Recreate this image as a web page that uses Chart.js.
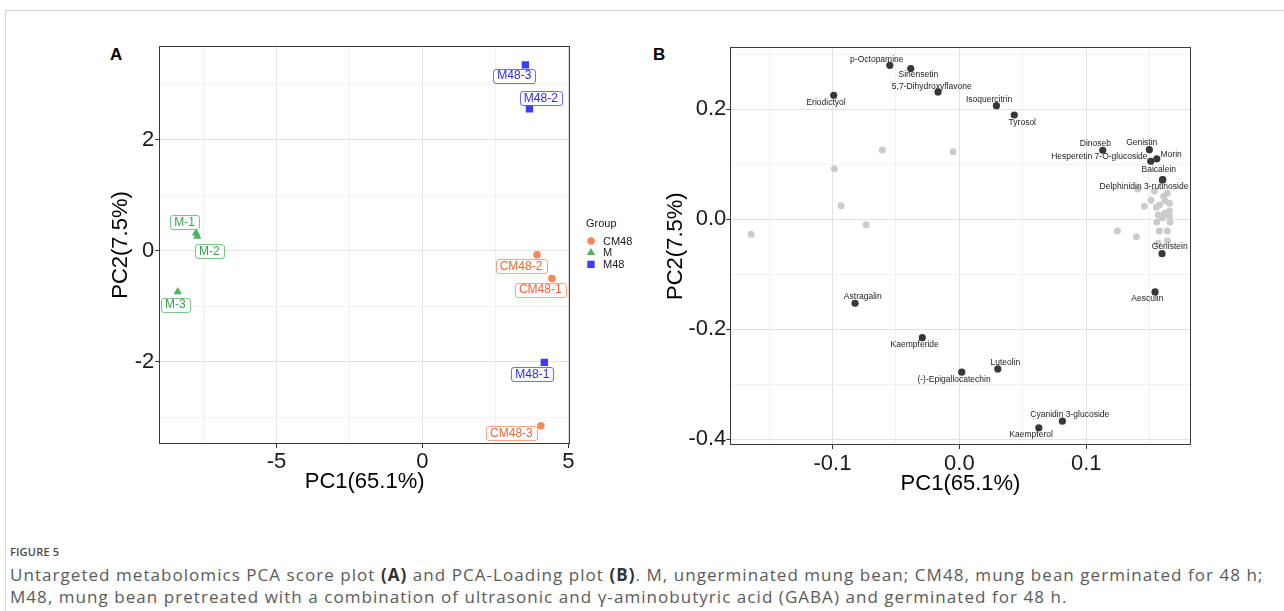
<!DOCTYPE html>
<html>
<head>
<meta charset="utf-8">
<script src="https://cdn.jsdelivr.net/npm/chart.js@4.4.0/dist/chart.umd.min.js"></script>
<style>
	body { margin: 0; width: 1284px; height: 611px; background: #fff; position: relative; overflow: hidden; font-family: 'Liberation Sans', Arial, sans-serif; }
	#frame { position: absolute; left: 5px; top: 10px; right: 0; bottom: 0; border-top: 1px solid #d4d4d4; border-left: 1px solid #d4d4d4; }
	canvas { position: absolute; }
	.tag { position: absolute; font-weight: bold; font-size: 17px; color: #000; line-height: 1; }
	#figno { position: absolute; left: 10px; top: 544px; font-family: 'Open Sans', sans-serif; font-size: 11px; font-weight: 600; color: #4a4a4a; letter-spacing: 0.2px; }
	#caption { position: absolute; left: 10px; top: 564px; font-family: 'Open Sans', sans-serif; font-size: 17px; letter-spacing: 1.05px; line-height: 22px; color: #5a5a5a; white-space: nowrap; }
	#caption b { color: #333; }
</style>
</head>
<body>
<div id="frame"></div>
<div class="tag" style="left:110px;top:46px">A</div>
<div class="tag" style="left:653px;top:46px">B</div>
<canvas id="scoreChart" width="550" height="470" style="left:100px;top:40px"></canvas>
<canvas id="loadingChart" width="624" height="470" style="left:660px;top:40px"></canvas>
<div id="figno">FIGURE 5</div>
<div id="caption">Untargeted metabolomics PCA score plot <b>(A)</b> and PCA-Loading plot <b>(B)</b>. M, ungerminated mung bean; CM48, mung bean germinated for 48 h;<br>M48, mung bean pretreated with a combination of ultrasonic and γ-aminobutyric acid (GABA) and germinated for 48 h.</div>

<script>
// --- PCA score plot (A) ---
const groups = ['CM48', 'M', 'M48'];
const sampleNames = ['CM48-1', 'CM48-2', 'CM48-3', 'M-1', 'M-2', 'M-3', 'M48-1', 'M48-2', 'M48-3'];
const sampleGroup = ['CM48', 'CM48', 'CM48', 'M', 'M', 'M', 'M48', 'M48', 'M48'];
const pc1Scores = [4.44, 3.93, 4.06, -7.76, -7.72, -8.39, 4.18, 3.67, 3.53];
const pc2Scores = [-0.50, -0.07, -3.15, 0.32, 0.26, -0.74, -2.01, 2.56, 3.35];

const scoreRangeX = [-9.02, 5.06];
const scoreRangeY = [-3.48, 3.69];
const scoreMajorX = [-5, 0, 5];
const scoreMinorX = [-7.5, -2.5, 2.5];
const scoreMajorY = [-2, 0, 2];
const scoreMinorY = [-3, -1, 1, 3];

// --- PCA loading plot (B) ---
const namedCompounds = ['p-Octopamine', 'Sinensetin', '5,7-Dihydroxyflavone', 'Eriodictyol', 'Isoquercitrin',
	'Tyrosol', 'Dinoseb', 'Genistin', 'Morin', 'Hesperetin 7-O-glucoside', 'Baicalein', 'Delphinidin 3-rutinoside',
	'Genistein', 'Aesculin', 'Astragalin', 'Kaempferide', 'Luteolin', '(-)-Epigallocatechin', 'Cyanidin 3-glucoside', 'Kaempferol'];
const namedPC1 = [-0.0548, -0.0383, -0.0168, -0.0990, 0.0292, 0.0433, 0.1130, 0.1497, 0.1556, 0.1508, 0.1603, 0.1600,
	0.1597, 0.1542, -0.0822, -0.0292, 0.0303, 0.0019, 0.0812, 0.0626];
const namedPC2 = [0.280, 0.274, 0.2315, 0.2255, 0.2065, 0.1896, 0.1255, 0.1265, 0.110, 0.1055, 0.072, 0.0715,
	-0.0625, -0.132, -0.1527, -0.2153, -0.272, -0.278, -0.367, -0.379];
const otherPC1 = [-0.1641, -0.0985, -0.0607, -0.0050, -0.0932, -0.0735, 0.1245, 0.1395, 0.1458, 0.1510, 0.1553, 0.1576,
	0.1537, 0.1610, 0.1621, 0.1639, 0.1655, 0.1568, 0.1600, 0.1618, 0.1655, 0.1655, 0.1660, 0.1556, 0.1576, 0.1639,
	0.1566, 0.1639, 0.1406];
const otherPC2 = [-0.0273, 0.092, 0.126, 0.123, 0.0247, -0.0098, -0.0213, -0.0316, 0.0236, 0.0345, 0.0218, 0.026,
	0.0515, 0.0418, 0.0333, 0.0473, 0.029, 0.0078, 0.003, 0.011, 0.015, 0.006, -0.005, -0.005, -0.0213, -0.0213,
	-0.0437, -0.0395, 0.055];

const loadRangeX = [-0.1805, 0.1823];
const loadRangeY = [-0.4104, 0.3127];
const loadMajorX = [-0.1, 0, 0.1];
const loadMinorX = [-0.15, -0.05, 0.05, 0.15];
const loadMajorY = [-0.4, -0.2, 0, 0.2];
const loadMinorY = [-0.3, -0.1, 0.1, 0.3];

// label nudges in pixels (label centre relative to its point)
const scoreLabelNudge = [[-11.7, 11], [-16, 11], [-29.4, 7.7], [-11.4, -10.7], [12, 14.3], [-2.4, 12.7], [-12, 11.7], [11.4, -10.3], [-11, 10.7]];
const loadLabelNudge = [[-13, -5.3], [7.6, 6.3], [-6.3, -5.3], [-7.7, 7], [-7.3, -5.7], [8, 7.7], [-7.4, -6.6], [-7.6, -6.7],
	[14.3, -3.7], [-51.4, -4.3], [-4, -10], [-18.4, 6.6], [7.7, -7], [-7.7, 7], [7.7, -6.3], [-7.6, 7.3], [7.6, -6.7],
	[-7.7, 7], [7.4, -6.3], [-7.7, 6.6]];

const groupStyle = {
	CM48: { fill: '#F8875C', text: '#F26534', shape: 'circle', r: 3.8 },
	M: { fill: '#4DB35B', text: '#36A548', shape: 'triangle', r: 4.8 },
	M48: { fill: '#3D3DF3', text: '#2B2BEA', shape: 'rect', r: 5.2 }
};

const FONT = "'Liberation Sans', Arial, sans-serif";

function axis(pos, range, majors, minors, title, fmt, size, tickPad, titlePad) {
	const all = majors.concat(minors).sort((a, b) => a - b);
	const isMajor = v => majors.some(m => Math.abs(m - v) < 1e-9);
	return {
		type: 'linear',
		position: pos,
		min: range[0],
		max: range[1],
		afterBuildTicks: s => { s.ticks = all.map(v => ({ value: v })); },
		afterFit: s => {
			if (pos === 'left') s.width = size; else s.height = size;
			s.paddingTop = 0; s.paddingBottom = 0; s.paddingLeft = 0; s.paddingRight = 0;
		},
		border: { display: false },
		grid: {
			color: c => isMajor(c.tick.value) ? '#e3e3e3' : '#f1f1f1',
			tickColor: c => isMajor(c.tick.value) ? '#333' : 'rgba(0,0,0,0)',
			tickLength: 4,
			lineWidth: 1
		},
		ticks: {
			autoSkip: false,
			maxRotation: 0,
			padding: tickPad,
			color: '#1a1a1a',
			font: { family: FONT, size: 22 },
			callback: v => isMajor(v) ? fmt(v) : ''
		},
		title: {
			display: true,
			text: title,
			color: '#000',
			font: { family: FONT, size: 22 },
			padding: titlePad
		}
	};
}

function panelBorder(ctx, area) {
	ctx.save();
	ctx.strokeStyle = '#3a3a3a';
	ctx.lineWidth = 1;
	const l = Math.round(area.left) + 0.5, t = Math.round(area.top) + 0.5;
	const r = Math.round(area.right) - 0.5, b = Math.round(area.bottom) - 0.5;
	ctx.strokeRect(l, t, r - l, b - t);
	ctx.restore();
}

const scoreExtras = {
	id: 'scoreExtras',
	afterDatasetsDraw(chart) {
		const ctx = chart.ctx;
		const xs = chart.scales.x, ys = chart.scales.y;
		panelBorder(ctx, chart.chartArea);
		ctx.save();
		ctx.font = '12px ' + FONT;
		ctx.textAlign = 'center';
		ctx.textBaseline = 'middle';
		sampleNames.forEach((name, i) => {
			const st = groupStyle[sampleGroup[i]];
			const cx = xs.getPixelForValue(pc1Scores[i]) + scoreLabelNudge[i][0];
			const cy = ys.getPixelForValue(pc2Scores[i]) + scoreLabelNudge[i][1];
			const w = ctx.measureText(name).width + 8, h = 14;
			ctx.beginPath();
			ctx.roundRect(Math.round(cx - w / 2) + 0.5, Math.round(cy - h / 2) + 0.5, Math.round(w), h, 2.5);
			ctx.fillStyle = '#fff';
			ctx.fill();
			ctx.globalAlpha = 0.75;
			ctx.strokeStyle = st.fill;
			ctx.stroke();
			ctx.globalAlpha = 1;
			ctx.fillStyle = st.text;
			ctx.fillText(name, cx, cy + 0.5);
		});
		// legend
		const lx = chart.chartArea.right + 16;
		ctx.textAlign = 'left';
		ctx.fillStyle = '#1a1a1a';
		ctx.font = '11px ' + FONT;
		ctx.fillText('Group', lx, 184);
		groups.forEach((g, k) => {
			const st = groupStyle[g];
			const y = 201 + k * 11.7;
			ctx.fillStyle = st.fill;
			ctx.strokeStyle = st.fill;
			Chart.helpers.drawPoint(ctx, { pointStyle: st.shape, radius: st.r, rotation: 0, borderWidth: 0 }, lx + 5, y);
			ctx.fillStyle = '#1a1a1a';
			ctx.fillText(g, lx + 17, y + 0.5);
		});
		ctx.restore();
	}
};

const loadExtras = {
	id: 'loadExtras',
	afterDatasetsDraw(chart) {
		const ctx = chart.ctx;
		const xs = chart.scales.x, ys = chart.scales.y;
		panelBorder(ctx, chart.chartArea);
		ctx.save();
		ctx.font = '8.5px ' + FONT;
		ctx.textAlign = 'center';
		ctx.textBaseline = 'middle';
		ctx.fillStyle = '#222';
		namedCompounds.forEach((name, i) => {
			const cx = xs.getPixelForValue(namedPC1[i]) + loadLabelNudge[i][0];
			const cy = ys.getPixelForValue(namedPC2[i]) + loadLabelNudge[i][1];
			ctx.fillText(name, cx, cy);
		});
		ctx.restore();
	}
};

const scoreDatasets = groups.map(g => {
	const st = groupStyle[g];
	const pts = [];
	sampleGroup.forEach((sg, i) => { if (sg === g) pts.push({ x: pc1Scores[i], y: pc2Scores[i] }); });
	return {
		label: g,
		data: pts,
		pointStyle: st.shape,
		pointRadius: st.r,
		pointBackgroundColor: st.fill,
		pointBorderColor: st.fill,
		pointBorderWidth: 0
	};
});

new Chart(document.getElementById('scoreChart'), {
	type: 'scatter',
	data: { datasets: scoreDatasets },
	options: {
		responsive: false,
		animation: false,
		layout: { padding: { left: 0, top: 6, right: 80, bottom: 0 } },
		plugins: { legend: { display: false }, tooltip: { enabled: false } },
		scales: {
			x: axis('bottom', scoreRangeX, scoreMajorX, scoreMinorX, 'PC1(65.1%)', v => String(v), 66, 1, { top: 0, bottom: 14.5 }),
			y: axis('left', scoreRangeY, scoreMajorY, scoreMinorY, 'PC2(7.5%)', v => String(v), 59.3, 1, { top: 8, bottom: 0 })
		}
	},
	plugins: [scoreExtras]
});

new Chart(document.getElementById('loadingChart'), {
	type: 'scatter',
	data: {
		datasets: [
			{
				label: 'other',
				data: otherPC1.map((x, i) => ({ x, y: otherPC2[i] })),
				pointRadius: 3.5,
				pointBackgroundColor: '#cbcbcb',
				pointBorderWidth: 0
			},
			{
				label: 'named',
				data: namedPC1.map((x, i) => ({ x, y: namedPC2[i] })),
				pointRadius: 3.6,
				pointBackgroundColor: '#383838',
				pointBorderWidth: 0
			}
		]
	},
	options: {
		responsive: false,
		animation: false,
		layout: { padding: { left: 0, top: 7.3, right: 93.3, bottom: 0 } },
		plugins: { legend: { display: false }, tooltip: { enabled: false } },
		scales: {
			x: axis('bottom', loadRangeX, loadMajorX, loadMinorX, 'PC1(65.1%)', v => v.toFixed(1), 65, 2, { top: 0, bottom: 12.8 }),
			y: axis('left', loadRangeY, loadMajorY, loadMinorY, 'PC2(7.5%)', v => v.toFixed(1), 70.3, 0, { top: 2.8, bottom: 0 })
		}
	},
	plugins: [loadExtras]
});
</script>
</body>
</html>
